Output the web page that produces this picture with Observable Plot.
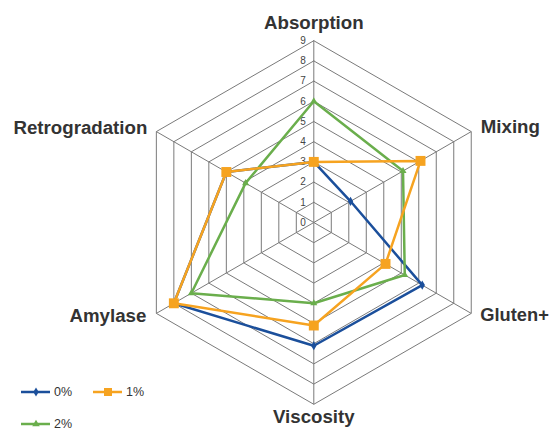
<!DOCTYPE html>
<html>
<head>
<meta charset="utf-8">
<script src="https://cdn.jsdelivr.net/npm/d3@7"></script>
<script src="https://cdn.jsdelivr.net/npm/@observablehq/plot@0.6"></script>
<style>
  html, body { margin: 0; padding: 0; background: #fff; }
  #wrap { position: relative; width: 551px; height: 430px; font-family: "Liberation Sans", Arial, sans-serif; }
  #legend { position: absolute; left: 0; top: 0; width: 551px; height: 430px; pointer-events: none; }
</style>
</head>
<body>
<div id="wrap"><div id="chart"></div><div id="legend"></div></div>
<script>
// ---- data ----
const axes = ["Absorption", "Mixing", "Gluten+", "Viscosity", "Amylase", "Retrogradation"];
const seriesNames = ["0%", "1%", "2%"];
const values0 = [3, 2.1, 6.2, 6.1, 8, 5];
const values1 = [3, 6.1, 4.1, 5.1, 8, 5];
const values2 = [6, 5.1, 5.2, 4, 7, 3.9];
const tickLabels = [0, 1, 2, 3, 4, 5, 6, 7, 8, 9];
const colors = ["#1b4f9b", "#f6a320", "#6aae4c"];
const symbols = ["diamond", "square", "triangle"];

const maxR = 9;
const angle = i => (i * 2 * Math.PI) / axes.length;
const px = (r, i) => r * Math.sin(angle(i));
const py = (r, i) => r * Math.cos(angle(i));

// grid rings
const rings = [];
for (const k of tickLabels.filter(t => t > 0)) {
  for (let i = 0; i <= axes.length; i++) {
    rings.push({ ring: k, x: px(k, i % axes.length), y: py(k, i % axes.length) });
  }
}
const spokes = axes.map((a, i) => ({ axis: a, x: px(maxR, i), y: py(maxR, i) }));

// series points
const allValues = [values0, values1, values2];
const linePts = [];
const dotPts = [];
seriesNames.forEach((s, si) => {
  const vals = allValues[si];
  for (let i = 0; i <= axes.length; i++) {
    const j = i % axes.length;
    const p = { series: s, axis: axes[j], value: vals[j], x: px(vals[j], j), y: py(vals[j], j) };
    linePts.push(p);
    if (i < axes.length) dotPts.push(p);
  }
});
const drawOrder = ["0%", "2%", "1%"];

const cx = 313.3, cy = 222, unit = 20.2;
const labelStyle = { fontSize: 18.7, fontWeight: "bold", fill: "#333", lineAnchor: "middle" };

const chart = Plot.plot({
  width: 551,
  height: 430,
  margin: 0,
  style: { background: "#fff", fontFamily: "Liberation Sans, Arial, sans-serif" },
  x: { domain: [-maxR, maxR], range: [cx - maxR * unit, cx + maxR * unit], axis: null },
  y: { domain: [-maxR, maxR], range: [cy + maxR * unit, cy - maxR * unit], axis: null },
  color: { domain: seriesNames, range: colors },
  symbol: { domain: seriesNames, range: symbols },
  marks: [
    Plot.line(rings, { x: "x", y: "y", z: "ring", stroke: "#7a7a7a", strokeWidth: 1 }),
    Plot.link(spokes, { x1: 0, y1: 0, x2: "x", y2: "y", stroke: "#7a7a7a", strokeWidth: 1 }),
    Plot.text(tickLabels, { x: 0, y: d => d, text: d => String(d), textAnchor: "end", dx: -8, fontSize: 10, fill: "#444" }),
    ...drawOrder.map(s => Plot.line(linePts.filter(d => d.series === s), { x: "x", y: "y", stroke: "series", strokeWidth: 2.5 })),
    ...drawOrder.map(s => Plot.dot(dotPts.filter(d => d.series === s), {
      x: "x", y: "y", fill: "series", symbol: "series", stroke: "none",
      r: s === "1%" ? 5.6 : s === "0%" ? 2.8 : 2.6
    })),
    // axis labels
    Plot.text(spokes.filter(d => d.axis === "Absorption"), { x: "x", y: "y", text: "axis", dy: -18, textAnchor: "middle", ...labelStyle }),
    Plot.text(spokes.filter(d => d.axis === "Viscosity"), { x: "x", y: "y", text: "axis", dy: 12.5, textAnchor: "middle", ...labelStyle }),
    Plot.text(spokes.filter(d => d.axis === "Mixing"), { x: "x", y: "y", text: "axis", dx: 9.5, dy: -4.5, textAnchor: "start", ...labelStyle }),
    Plot.text(spokes.filter(d => d.axis === "Gluten+"), { x: "x", y: "y", text: "axis", dx: 9, dy: 2, textAnchor: "start", ...labelStyle, fontSize: 18.3 }),
    Plot.text(spokes.filter(d => d.axis === "Amylase"), { x: "x", y: "y", text: "axis", dx: -10, dy: 3, textAnchor: "end", ...labelStyle }),
    Plot.text(spokes.filter(d => d.axis === "Retrogradation"), { x: "x", y: "y", text: "axis", dx: -9, dy: -4, textAnchor: "end", ...labelStyle })
  ]
});
document.getElementById("chart").appendChild(chart);

// legend (HTML overlay)
const legendPos = [
  { left: 21, top: 392 },
  { left: 93, top: 392 },
  { left: 21, top: 424 }
];
const leg = d3.select("#legend");
seriesNames.forEach((s, i) => {
  const item = leg.append("div")
    .style("position", "absolute")
    .style("left", legendPos[i].left + "px")
    .style("top", (legendPos[i].top - 8) + "px")
    .style("display", "flex")
    .style("align-items", "center")
    .style("height", "16px");
  const svg = item.append("svg").attr("width", 30).attr("height", 16);
  svg.append("line").attr("x1", 0).attr("x2", 29).attr("y1", 8).attr("y2", 8)
    .attr("stroke", colors[i]).attr("stroke-width", 2.5);
  const symType = { diamond: d3.symbolDiamond, square: d3.symbolSquare, triangle: d3.symbolTriangle }[symbols[i]];
  const rr = i === 1 ? 4.5 : 2.8;
  svg.append("path").attr("transform", "translate(15,8)")
    .attr("d", d3.symbol(symType, rr * rr * Math.PI)()).attr("fill", colors[i]);
  item.append("span").text(s)
    .style("font-size", "12.5px").style("color", "#333").style("margin-left", "3px");
});
</script>
</body>
</html>
